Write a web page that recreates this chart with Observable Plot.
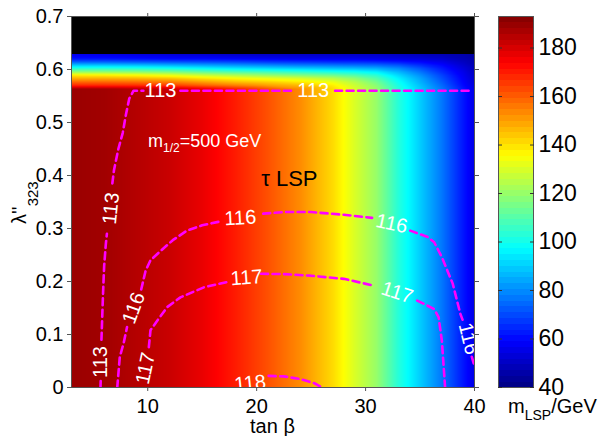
<!DOCTYPE html>
<html><head><meta charset="utf-8">
<script src="https://cdn.jsdelivr.net/npm/d3@7"></script>
<script src="https://cdn.jsdelivr.net/npm/@observablehq/plot@0.6"></script>
<style>
html,body{margin:0;padding:0;background:#fff;}
#chart{position:relative;width:606px;height:436px;overflow:hidden;font-family:"Liberation Sans",Arial,Helvetica,sans-serif;}
#chart svg{position:absolute;top:0;}
</style></head><body><div id="chart"></div>
<script>
// ---------- data ----------
const tanBetaGrid = [3, 6, 9, 12, 15, 18, 21, 24, 27, 29, 31, 33, 35, 37, 39, 40];
const lambdaGrid = [0, 0.563, 0.57, 0.576, 0.583, 0.589, 0.595, 0.602, 0.608, 0.614, 0.62, 0.626, 0.63];
// m_LSP (GeV) per lambda row (rows) and tan beta column (cols)
const massRows = [
  [189,188,185,182,177,170,162,153,141,130,120,103,90,77,62,55],
  [189,188,185,182,177,170,162,153,141,130,120,103,90,77,62,55],
  [168,168,167,165,160,155,150,146,138,128,118,101,88,75,60,54],
  [159,159,158,156,151,146,143,139,133,125,115,99,86,73,59,53],
  [148,148,147,145,140,136,133,130,125,119,110,96,84,71,58,52],
  [139,138,136,133,128,124,120,117,114,110,104,92,81,69,57,51],
  [120,120,119,117,113,110,108,105,102,100,96,87,77,66,56,50],
  [103,103,102,100,97,94,92,90,88,87,85,80,72,63,54,49],
  [89,89,88,86,84,82,80,78,77,76,75,72,66,60,52,48],
  [74,74,73,72,71,70,68,67,66,66,65,63,60,56,50,47],
  [62,62,61,60,60,59,58,57,57,57,56,55,54,52,48,46],
  [58,57,56,55,54,53,52,52,52,52,52,51,50,49,47,45],
  [55,54,53,52,51,50,50,50,50,50,50,49,48,47,46,45]
];
const xDomain = [3, 40];
const yDomain = [0, 0.7];
const colorDomain = [40, 193];
const xTicks = [10, 20, 30, 40];
const yTicks = [0, 0.1, 0.2, 0.3, 0.4, 0.5, 0.6, 0.7];
const colorTicks = [40, 60, 80, 100, 120, 140, 160, 180];
const noSolutionTanBeta = [3, 40];
const noSolutionLambda = [0.63, 0.7];

// dashed contour pieces (broken where labels sit)
const contourPieces = [
  {id: "113a", pts: [[5.66,0],[5.68,0.012]]},
  {id: "113b", pts: [[5.75,0.09],[5.8,0.12],[5.9,0.18],[6.0,0.23],[6.15,0.27],[6.25,0.29]]},
  {id: "113c", pts: [[6.75,0.385],[6.9,0.41],[7.3,0.45],[7.7,0.48],[8.0,0.515],[8.3,0.545],[8.7,0.56],[9.6,0.56]]},
  {id: "113d", pts: [[13.0,0.56],[23.3,0.56]]},
  {id: "113e", pts: [[27.2,0.56],[39.6,0.56]]},
  {id: "116a", pts: [[7.2,0],[7.43,0.057],[7.8,0.085],[8.1,0.114]]},
  {id: "116b", pts: [[9.4,0.185],[9.8,0.22],[10.25,0.24],[11.2,0.258],[12.3,0.278],[13.6,0.296],[15.0,0.306],[16.6,0.313]]},
  {id: "116c", pts: [[20.6,0.328],[22.5,0.331],[25,0.331],[28,0.326],[30.6,0.32]]},
  {id: "116d", pts: [[34.1,0.296],[35.7,0.284],[36.3,0.274],[37.0,0.246],[38.0,0.196],[38.7,0.139],[38.9,0.128]]},
  {id: "116e", pts: [[39.75,0.058],[40,0.04]]},
  {id: "117a", pts: [[10.1,0.076],[10.25,0.108],[10.87,0.126],[11.8,0.152],[13.0,0.17],[15.15,0.189],[17.3,0.199]]},
  {id: "117b", pts: [[20.4,0.2145],[22.5,0.214],[24.95,0.211],[28.0,0.205],[30.8,0.192]]},
  {id: "117c", pts: [[34.74,0.164],[36.3,0.148],[36.7,0.133],[37.0,0.089],[37.3,0.0]]},
  {id: "118a", pts: [[21.1,0.022],[22.5,0.021],[24,0.016],[25.3,0.008],[26.0,0]]}
];
const contourLabels = [
  {text: "113", tanBeta: 5.66, lambda: 0.048, angle: -90},
  {text: "113", tanBeta: 6.63, lambda: 0.338, angle: -84},
  {text: "113", tanBeta: 11.17, lambda: 0.56, angle: 0},
  {text: "113", tanBeta: 25.2, lambda: 0.56, angle: 0},
  {text: "116", tanBeta: 8.72, lambda: 0.15, angle: -70},
  {text: "116", tanBeta: 18.5, lambda: 0.32, angle: -3},
  {text: "116", tanBeta: 32.4, lambda: 0.309, angle: 12},
  {text: "116", tanBeta: 39.45, lambda: 0.092, angle: 76},
  {text: "117", tanBeta: 9.8, lambda: 0.036, angle: -78},
  {text: "117", tanBeta: 19.07, lambda: 0.207, angle: -4},
  {text: "117", tanBeta: 32.9, lambda: 0.179, angle: 18},
  {text: "118", tanBeta: 19.4, lambda: 0.008, angle: -6}
];
const regionLabel = [{text: "τ LSP", tanBeta: 23.0, lambda: 0.381}];
const massNote = {tanBeta: 10.07, lambda: 0.453, main: "m", sub: "1/2", rest: "=500 GeV"};
const xLabel = "tan β";
const yLabel = {main: "λ''", sub: "323"};
const colorLabel = {main: "m", sub: "LSP", rest: "/GeV"};

// ---------- build ----------
const JET = ["#000080","#0000ff","#0080ff","#00ffff","#80ff80","#ffff00","#ff8000","#ff0000","#800000"];
const jet = d3.piecewise(d3.interpolateRgb, JET);
const font = '"Liberation Sans", Arial, Helvetica, sans-serif';
const grid = lambdaGrid.flatMap((l, i) => tanBetaGrid.map((t, j) => ({t, l, m: massRows[i][j]})));
const contourData = contourPieces.flatMap(p => p.pts.map(([t, l]) => ({id: p.id, t, l})));

const main = Plot.plot({
  width: 490, height: 436,
  marginLeft: 71, marginRight: 16, marginTop: 16, marginBottom: 49,
  style: {fontFamily: font, fontSize: "20px", color: "#000", background: "transparent", overflow: "visible"},
  x: {domain: xDomain, label: null},
  y: {domain: yDomain, label: null},
  color: {type: "linear", domain: colorDomain, interpolate: jet},
  marks: [
    Plot.raster(grid, {x: "t", y: "l", fill: "m", interpolate: "barycentric",
      x1: xDomain[0], x2: xDomain[1], y1: yDomain[0], y2: noSolutionLambda[0]}),
    Plot.rect([0], {x1: noSolutionTanBeta[0], x2: noSolutionTanBeta[1], y1: noSolutionLambda[0], y2: noSolutionLambda[1],
      fill: "black", insetBottom: -1, shapeRendering: "crispEdges"}),
    Plot.line(contourData, {x: "t", y: "l", z: "id", stroke: "#ff00ff", strokeWidth: 2.6, strokeDasharray: "7,4.5", clip: true}),
    Plot.text(contourLabels, {x: "tanBeta", y: "lambda", text: "text", rotate: "angle", fill: "white", fontSize: 20, clip: true}),
    Plot.text(regionLabel, {x: "tanBeta", y: "lambda", text: "text", fill: "black", fontSize: 22, lineAnchor: "bottom"}),
    Plot.frame({stroke: "#555"}),
    Plot.axisX({anchor: "bottom", ticks: xTicks, tickSize: 4, tickPadding: 7, label: null, stroke: "#555"}),
    Plot.axisX({anchor: "top", ticks: xTicks, tickSize: 4, tickFormat: () => "", label: null, stroke: "#555"}),
    Plot.axisY({anchor: "left", ticks: yTicks, tickSize: 4, tickPadding: 4, tickFormat: d => String(d), label: null, stroke: "#555"}),
    Plot.axisY({anchor: "right", ticks: yTicks, tickSize: 4, tickFormat: () => "", label: null, stroke: "#555"})
  ]
});
main.style.left = "0px";

const svgM = d3.select(main);
const sx = main.scale("x"), sy = main.scale("y");
// m_1/2 note
{
  const t = svgM.append("text").attr("x", sx.apply(massNote.tanBeta)).attr("y", sy.apply(massNote.lambda))
    .attr("text-anchor", "start").attr("fill", "white").attr("font-size", 18).attr("font-family", font);
  t.append("tspan").text(massNote.main);
  t.append("tspan").attr("dy", 5).attr("font-size", 12).text(massNote.sub);
  t.append("tspan").attr("dy", -5).text(massNote.rest);
}
// x label
svgM.append("text").attr("x", (sx.range[0] + sx.range[1]) / 2).attr("y", 433)
  .attr("text-anchor", "middle").attr("font-size", 20).attr("font-family", font).attr("fill", "black").text(xLabel);
// y label
{
  const t = svgM.append("text").attr("transform", "translate(26,224) rotate(-90)")
    .attr("text-anchor", "start").attr("font-size", 20).attr("font-family", font).attr("fill", "black");
  t.append("tspan").text(yLabel.main);
  t.append("tspan").attr("dy", 12).attr("font-size", 15).text(yLabel.sub);
}

const bar = Plot.plot({
  width: 116, height: 436,
  marginLeft: 8, marginRight: 73, marginTop: 16, marginBottom: 49,
  style: {fontFamily: font, fontSize: "23px", color: "#000", background: "transparent", overflow: "visible"},
  x: {domain: [0, 1], axis: null},
  y: {domain: colorDomain, label: null, axis: null},
  color: {type: "linear", domain: colorDomain, interpolate: jet},
  marks: [
    Plot.raster({fill: (x, y) => y, x1: 0, x2: 1, y1: colorDomain[0], y2: colorDomain[1], width: 1, height: 64, imageRendering: "pixelated"}),
    Plot.frame({stroke: "#555"}),
    Plot.axisY({anchor: "left", ticks: colorTicks, tickSize: -4, tickFormat: () => "", label: null, stroke: "#333"}),
    Plot.axisY({anchor: "right", ticks: colorTicks, tickSize: -4, tickPadding: 9, label: null, stroke: "#333"})
  ]
});
bar.style.left = "490px";
{
  const t = d3.select(bar).append("text").attr("x", 18).attr("y", 413)
    .attr("text-anchor", "start").attr("font-size", 20).attr("font-family", font).attr("fill", "black");
  t.append("tspan").text(colorLabel.main);
  t.append("tspan").attr("dy", 7).attr("font-size", 14).text(colorLabel.sub);
  t.append("tspan").attr("dy", -7).text(colorLabel.rest);
}

document.getElementById("chart").append(main, bar);
</script>
</body></html>
